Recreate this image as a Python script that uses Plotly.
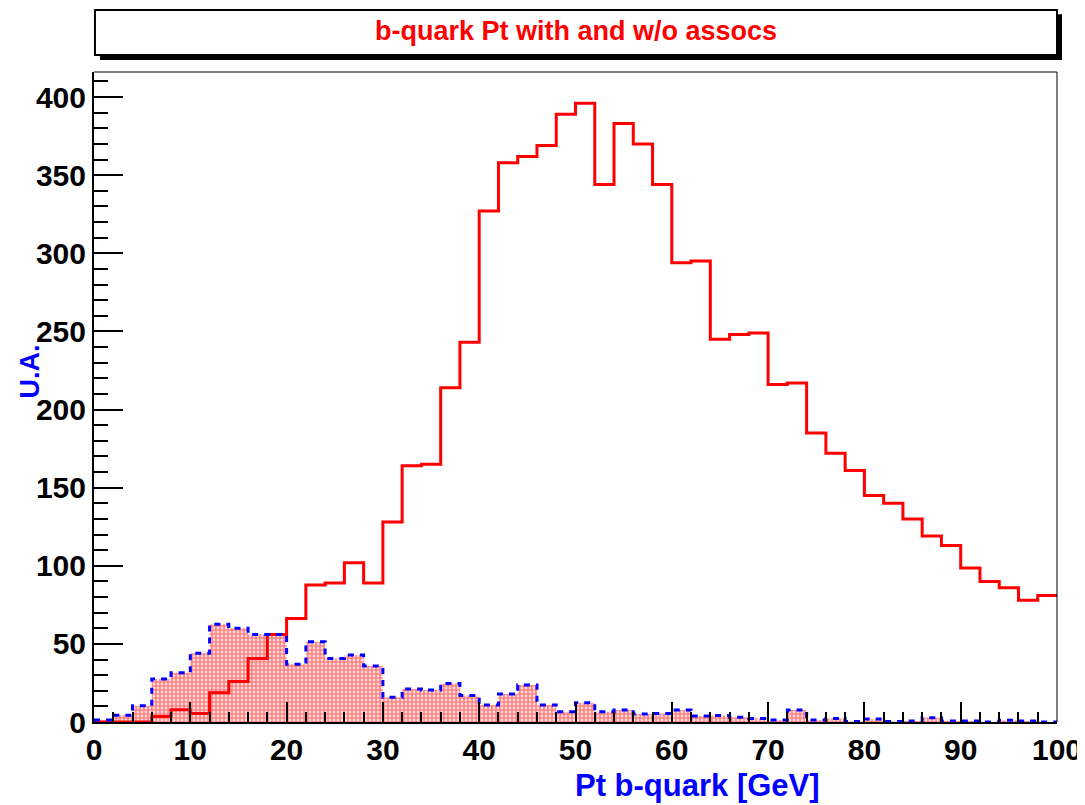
import plotly.graph_objects as go

# bin edges of the two histograms (2 GeV bins, 0-100)
edges = list(range(0, 101, 2))

# b-quark Pt with assocs (red solid line)
pt_with = [0, 0, 0, 3.6, 7.9, 5.5, 18.8, 26, 40.7, 56, 66.3, 87.7, 89, 102, 89,
           128, 164, 165, 214, 243, 327, 358, 362, 369, 389, 396, 344, 383, 370, 344,
           294, 295, 245, 248, 249, 216, 217, 185, 172, 161, 145, 140, 130, 119, 113,
           98.6, 90, 86, 78, 81]

# b-quark Pt w/o assocs (blue dashed, red dotted fill)
pt_without = [1.3, 4.3, 10.4, 27.5, 31.6, 44, 62.5, 60, 56, 56, 37, 51.4, 40.7, 42.9, 35.8,
              15.8, 21.2, 20.5, 24.7, 16.9, 10.9, 17.9, 23.7, 10.9, 6.6, 12.3, 6.6, 7.7, 5.2, 5.5,
              7.7, 3.8, 4.2, 3, 2.3, 1.3, 7.7, 1.3, 2.3, 0.4, 1.9, 0.3, 0.6, 2.8, 0.6,
              0.6, 0, 1.2, 0.6, 0]

x_ticks = [0, 10, 20, 30, 40, 50, 60, 70, 80, 90, 100]
y_ticks = [0, 50, 100, 150, 200, 250, 300, 350, 400]

FONT = "Liberation Sans"

fig = go.Figure()

fig.add_trace(go.Scatter(
    x=edges, y=pt_with + [pt_with[-1]],
    mode="lines", line=dict(color="#ff0000", width=3, shape="hv"),
    showlegend=False, hoverinfo="skip",
))

fig.add_trace(go.Scatter(
    x=edges, y=pt_without + [pt_without[-1]],
    mode="lines", line=dict(color="#0000ff", width=3, shape="hv", dash="6px,6px"),
    fill="tozeroy", fillcolor="rgba(0,0,0,0)",
    fillpattern=dict(shape=".", fgcolor="#ff0000", bgcolor="rgba(255,255,255,0)",
                     size=4, solidity=0.7),
    showlegend=False, hoverinfo="skip",
))

axis_font = dict(family=FONT, size=30, color="black", weight="bold")

fig.update_xaxes(
    range=[0, 100], tickvals=x_ticks, ticks="inside", ticklen=20, tickwidth=2,
    tickcolor="black", showline=True, linecolor="black", linewidth=2,
    showgrid=False, zeroline=False, tickfont=axis_font, automargin=False,
    minor=dict(dtick=2, ticks="inside", ticklen=10, tickwidth=1.5, tickcolor="black"),
)
fig.update_yaxes(
    range=[0, 416], tickvals=y_ticks, ticks="inside", ticklen=29, tickwidth=2,
    tickcolor="black", showline=True, linecolor="black", linewidth=2,
    showgrid=False, zeroline=False, tickfont=axis_font, automargin=False,
    minor=dict(dtick=10, ticks="inside", ticklen=14, tickwidth=1.5, tickcolor="black"),
)

# frame top / right
fig.add_shape(type="line", xref="paper", yref="paper", x0=0, x1=1, y0=1, y1=1,
              line=dict(color="black", width=1))
fig.add_shape(type="line", xref="paper", yref="paper", x0=1, x1=1, y0=0, y1=1,
              line=dict(color="black", width=1))

# title box with shadow
fig.add_shape(type="rect", xref="paper", yref="paper",
              x0=0.0062, x1=1.0052, y0=1.0185, y1=1.089,
              line=dict(width=0), fillcolor="black", layer="above")
fig.add_shape(type="rect", xref="paper", yref="paper",
              x0=0.001, x1=1.0, y0=1.0262, y1=1.0955,
              line=dict(color="black", width=2), fillcolor="white", layer="above")

fig.add_annotation(text="b-quark Pt with and w/o assocs", xref="paper", yref="paper",
                   x=0.5, y=1.0625, showarrow=False, xanchor="center", yanchor="middle",
                   font=dict(family=FONT, size=27, color="#ff0000", weight="bold"))

fig.add_annotation(text="Pt b-quark [GeV]", xref="paper", yref="paper",
                   x=0.627, y=-0.097, showarrow=False, xanchor="center", yanchor="middle",
                   font=dict(family=FONT, size=31, color="#0000ff", weight="bold"))

fig.add_annotation(text="U.A.", xref="paper", yref="paper",
                   x=-0.066, y=0.54, showarrow=False, xanchor="center", yanchor="middle",
                   textangle=-90,
                   font=dict(family=FONT, size=27, color="#0000ff", weight="bold"))

# the page body adds an 8px offset, so the figure is 8px smaller
fig.update_layout(
    width=1077, height=797,
    margin=dict(l=86, r=28, t=64, b=83),
    paper_bgcolor="white", plot_bgcolor="white",
)

fig.write_html("out.html")
